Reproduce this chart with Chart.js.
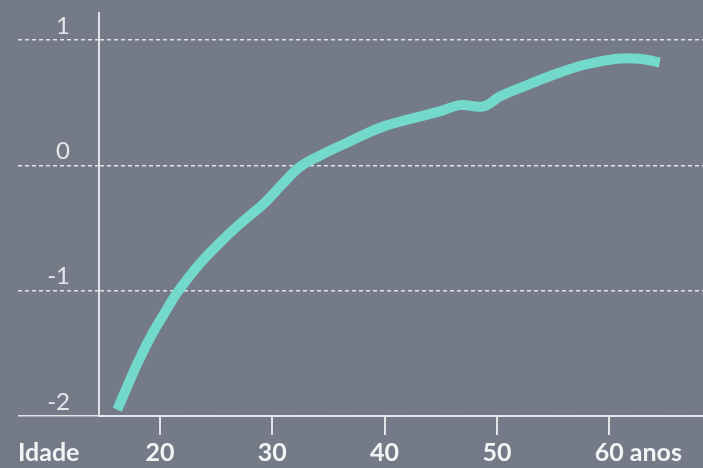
<!DOCTYPE html>
<html>
<head>
<meta charset="utf-8">
<script src="https://cdn.jsdelivr.net/npm/chart.js@4.4.7/dist/chart.umd.min.js"></script>
<style>
  html, body { margin: 0; padding: 0; background: #747a87; }
</style>
</head>
<body>
<canvas id="grafico" width="703" height="468"></canvas>
<script>
// idade (anos) e valor da curva
const idades = [16.2, 17.2, 18.2, 19.4, 20.6, 21.5, 23.6, 26.0, 28.0, 29.2, 30.9, 32.5, 34.3, 36.9, 39.6, 42.3, 44.9, 46.7, 48.8, 50.3, 52.7, 54.7, 57.7, 60.7, 62.7, 64.5];
const valores = [-1.95, -1.74, -1.54, -1.33, -1.15, -1.02, -0.78, -0.56, -0.40, -0.31, -0.15, -0.01, 0.08, 0.19, 0.30, 0.37, 0.43, 0.48, 0.47, 0.55, 0.64, 0.71, 0.80, 0.85, 0.85, 0.82];
const ticksX = [20, 30, 40, 50, 60];
const ticksY = [-2, -1, 0, 1];

const corLinha = "rgba(236,238,242,0.9)";
const fonte = { family: "Lato", size: 25, weight: "bold" };

const rotulosExtra = {
  id: "rotulosExtra",
  afterDraw(chart) {
    const ctx = chart.ctx;
    const sx = chart.scales.x;
    const itens = sx.getLabelItems();
    const item = itens[itens.length - 1];
    const y = item.options.translation[1] + item.textOffset;
    ctx.save();
    ctx.font = "bold 25px Lato";
    ctx.fillStyle = "#f2f3f5";
    ctx.textBaseline = item.options.textBaseline;
    ctx.textAlign = "left";
    ctx.fillText("Idade", 18, y);
    const px = sx.getPixelForValue(60);
    const w = ctx.measureText("60").width;
    ctx.fillText(" anos", px + w / 2, y);
    ctx.restore();
  }
};

const ctx = document.getElementById("grafico").getContext("2d");
new Chart(ctx, {
  type: "line",
  data: {
    datasets: [{
      data: idades.map((x, i) => ({ x: x, y: valores[i] })),
      borderColor: "#72d9cb",
      borderWidth: 10,
      pointRadius: 0,
      tension: 0.4,
      fill: false
    }]
  },
  options: {
    responsive: false,
    animation: false,
    layout: { padding: { top: 13, right: 0, left: 0, bottom: 0 } },
    plugins: { legend: { display: false }, tooltip: { enabled: false } },
    scales: {
      x: {
        type: "linear",
        min: 14.57,
        max: 68.35,
        afterBuildTicks: s => { s.ticks = ticksX.map(v => ({ value: v })); },
        afterFit: s => { s.height = 52; },
        ticks: {
          color: "#f2f3f5",
          font: fonte,
          padding: 3,
          maxRotation: 0,
          callback: v => String(v)
        },
        grid: { drawOnChartArea: false, color: corLinha, lineWidth: 2, tickLength: 19 },
        border: { color: corLinha, width: 2 }
      },
      y: {
        min: -2,
        max: 1.215,
        afterBuildTicks: s => { s.ticks = ticksY.map(v => ({ value: v })); },
        afterFit: s => { s.width = 99; },
        ticks: {
          color: "#e6e8ec",
          font: { family: "Lato", size: 24 },
          padding: -52,
          labelOffset: -14,
          callback: v => String(v)
        },
        grid: {
          color: corLinha,
          lineWidth: 1.5,
          tickLength: 81,
          tickBorderDash: c => (c.tick && c.tick.value === -2 ? [] : [4, 3])
        },
        border: { color: corLinha, width: 2, dash: [4, 3] }
      }
    }
  },
  plugins: [rotulosExtra]
});
</script>
</body>
</html>
